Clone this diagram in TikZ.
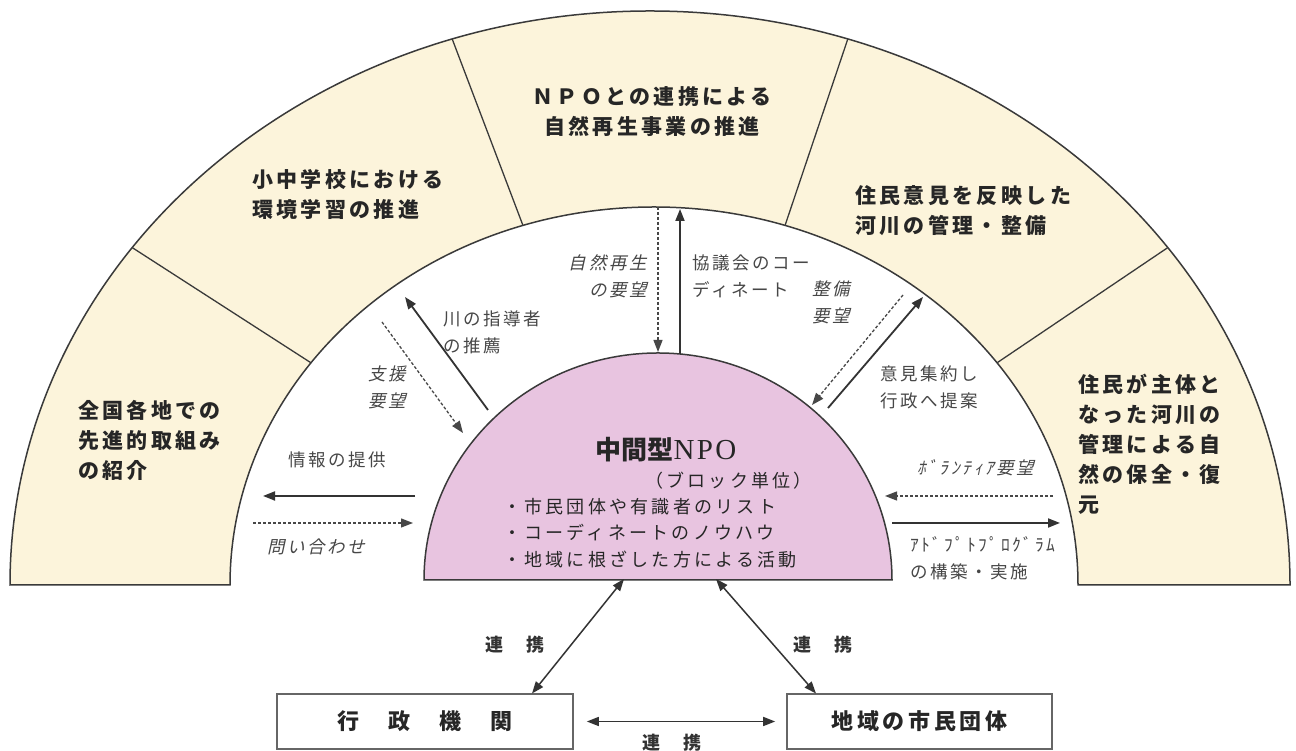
\documentclass[tikz,border=0pt]{standalone}
\usepackage{fontspec}
\usetikzlibrary{arrows.meta,calc}
\newfontfamily\cjkband[LetterSpace=16]{Noto Sans CJK JP}
\newfontfamily\cjklab[LetterSpace=15]{Noto Sans CJK JP}
\newfontfamily\cjklabit[LetterSpace=15,FakeSlant=0.22]{Noto Sans CJK JP}
\newfontfamily\cjkpink[LetterSpace=18]{Noto Sans CJK JP}
\newfontfamily\cjktitle{Noto Sans CJK JP}
\newfontfamily\serifnpo[LetterSpace=8]{Liberation Serif}
\newcommand\bandfont{\cjkband\bfseries\fontsize{21}{30}\selectfont}
\newcommand\labfont{\cjklab\fontsize{17.5}{27}\selectfont}
\newcommand\labitfont{\cjklabit\fontsize{17.5}{27}\selectfont}
\newcommand\pinkfont{\cjkpink\fontsize{18}{26.5}\selectfont}
\newcommand\boxfont{\cjkband\bfseries\fontsize{22}{28}\selectfont}
\newcommand\renfont{\cjklab\bfseries\fontsize{18}{22}\selectfont}
\definecolor{cream}{HTML}{FCF4DB}
\definecolor{pinkfill}{HTML}{E8C4E0}
\definecolor{lineC}{HTML}{3A3A3A}
\begin{document}
\begin{tikzpicture}[x=1pt,y=1pt,
  band/.style={font=\bandfont, text=black!85, align=left, inner sep=0pt},
  bandc/.style={font=\bandfont, text=black!85, align=center, inner sep=0pt},
  lab/.style={font=\labfont, text=black!72, inner sep=0pt},
  labi/.style={font=\labitfont, text=black!72, inner sep=0pt},
  pinktxt/.style={font=\pinkfont, text=black!85, inner sep=0pt, align=left},
  arr/.style={draw=black!80, line width=1.8pt, -{Triangle[length=12pt,width=9pt]}},
  darr/.style={draw=black!72, line width=1.3pt, dash pattern=on 3pt off 2pt, -{Triangle[length=12pt,width=9pt]}},
  barr/.style={draw=black!80, line width=1.5pt, {Triangle[length=12pt,width=9pt]}-{Triangle[length=12pt,width=9pt]}},
  orgbox/.style={draw=black!60, line width=1.6pt, fill=white, minimum height=55pt, font=\boxfont, text=black!85},
  ren/.style={font=\renfont, text=black!80, inner sep=0pt}]
\useasboundingbox (0,0) rectangle (1296,751);
\fill[white] (0,0) rectangle (1296,751);

% yellow band
\fill[cream] (10,166) arc[start angle=180,end angle=0,x radius=640,y radius=574]
  -- (1078,166) arc[start angle=0,end angle=180,x radius=424,y radius=378] -- cycle;
\draw[lineC, line width=1.5pt] (10,166) arc[start angle=180,end angle=0,x radius=640,y radius=574]
  -- (1078,166) arc[start angle=0,end angle=180,x radius=424,y radius=378] -- cycle;
\foreach \t in {36,72,108,144}
  \draw[lineC, line width=1.3pt] ([shift={(650,166)}]\t:640 and 574) -- ([shift={(654,166)}]\t:424 and 378);

% band texts
\node[band, anchor=west] (s1) at (78,311) {全国各地での\\先進的取組み\\の紹介};
\node[band, anchor=west] (s2) at (252,556) {小中学校における\\環境学習の推進};
\node[bandc] (s3) at (652,639) {ＮＰＯとの連携による\\自然再生事業の推進};
\node[band, anchor=west] (s4) at (855,540) {住民意見を反映した\\河川の管理・整備};
\node[band, anchor=west] (s5) at (1078,307) {住民が主体と\\なった河川の\\管理による自\\然の保全・復\\元};

% pink half disc
\filldraw[fill=pinkfill, draw=lineC, line width=1.5pt] (424,171) arc[start angle=180,end angle=0,x radius=234,y radius=227] -- cycle;
\node[inner sep=0pt, text=black!85] (npo) at (666,301) {{\cjktitle\bfseries\fontsize{26}{30}\selectfont 中間型}{\serifnpo\fontsize{29}{30}\selectfont NPO}};
\node[pinktxt, anchor=east] (blk) at (812,270) {（ブロック単位）};
\node[pinktxt, anchor=west] (lst) at (503,218) {・市民団体や有識者のリスト\\・コーディネートのノウハウ\\・地域に根ざした方による活動};

% coordinates of connector ends
\coordinate (a1s) at (658,544); \coordinate (a1e) at (658,399);
\coordinate (a2s) at (680,397); \coordinate (a2e) at (680,542);
\coordinate (a3s) at (903,456); \coordinate (a3e) at (812,346);
\coordinate (a4s) at (828,343); \coordinate (a4e) at (923,454);
\coordinate (a5s) at (1053,255); \coordinate (a5e) at (885,255);
\coordinate (a6s) at (892,228); \coordinate (a6e) at (1060,228);
\coordinate (a7s) at (488,341); \coordinate (a7e) at (405,454);
\coordinate (a8s) at (382,429); \coordinate (a8e) at (463,318);
\coordinate (a9s) at (415,255); \coordinate (a9e) at (263,255);
\coordinate (a10s) at (253,228); \coordinate (a10e) at (413,228);

\draw[darr] (a1s) -- (a1e);
\draw[arr] (a2s) -- (a2e);
\draw[darr] (a3s) -- (a3e);
\draw[arr] (a4s) -- (a4e);
\draw[darr] (a5s) -- (a5e);
\draw[arr] (a6s) -- (a6e);
\draw[arr] (a7s) -- (a7e);
\draw[darr] (a8s) -- (a8e);
\draw[arr] (a9s) -- (a9e);
\draw[darr] (a10s) -- (a10e);

% inner labels
\node[labi, anchor=east, align=right] (l1) at (647,475) {自然再生\\の要望};
\node[lab, anchor=west, align=left] (l2) at (692,475) {協議会のコー\\ディネート};
\node[labi, anchor=west, align=left] (l3) at (812,449) {整備\\要望};
\node[lab, anchor=west, align=left] (l4) at (880,364) {意見集約し\\行政へ提案};
\node[labi, anchor=west] (l5) at (917,283) {ﾎﾞﾗﾝﾃｨｱ要望};
\node[lab, anchor=west, align=left] (l6) at (910,193) {ｱﾄﾞﾌﾟﾄﾌﾟﾛｸﾞﾗﾑ\\の構築・実施};
\node[lab, anchor=west, align=left] (l7) at (443,419) {川の指導者\\の推薦};
\node[labi, anchor=east, align=right] (l8) at (406,364) {支援\\要望};
\node[lab, anchor=west] (l9) at (288,291) {情報の提供};
\node[labi, anchor=west] (l10) at (267,204) {問い合わせ};

% bottom boxes
\node[orgbox, minimum width=296pt] (gov) at (425,29.5) {行　政　機　関};
\node[orgbox, minimum width=265pt] (cit) at (919.5,29.5) {地域の市民団体};
\coordinate (p1) at (624,172); \coordinate (p2) at (716,172);
\coordinate (g1) at (532,57.5); \coordinate (c1) at (816,57.5);
\draw[barr] (p1) -- (g1);
\draw[barr] (p2) -- (c1);
\draw[barr, shorten <=13pt, shorten >=11pt] (gov.east) -- (cit.west);
\node[ren] (r1) at (515,106) {連　携};
\node[ren] (r2) at (823,106) {連　携};
\node[ren] (r3) at (672,8) {連　携};
\end{tikzpicture}
\end{document}
